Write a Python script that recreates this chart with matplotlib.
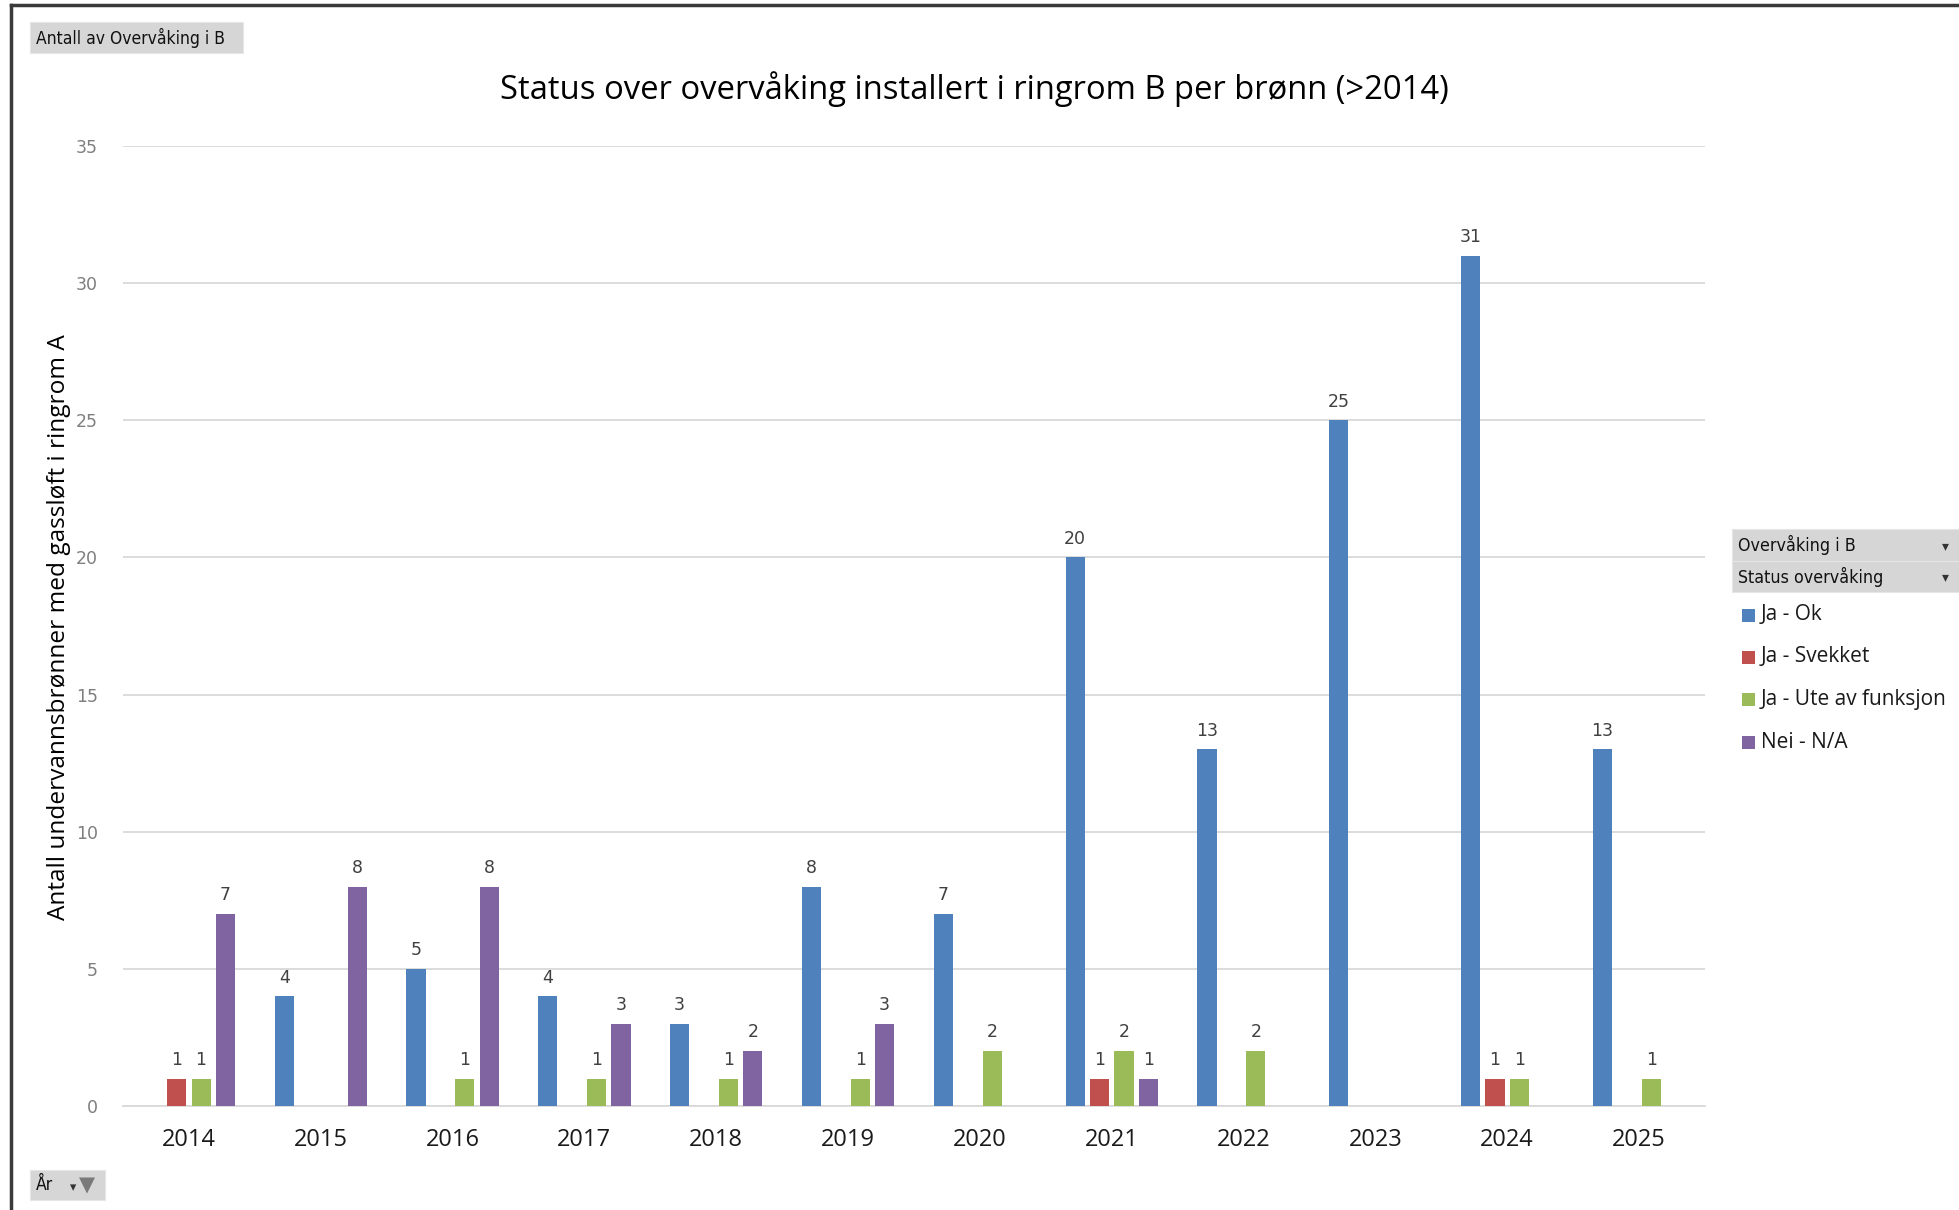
import matplotlib
matplotlib.use("Agg")
import matplotlib.pyplot as plt
from matplotlib.patches import Rectangle
from matplotlib.lines import Line2D
import numpy as np

years = ["2014", "2015", "2016", "2017", "2018", "2019", "2020", "2021", "2022", "2023", "2024", "2025"]
series_names = ["Ja - Ok", "Ja - Svekket", "Ja - Ute av funksjon", "Nei - N/A"]
ja_ok = [0, 4, 5, 4, 3, 8, 7, 20, 13, 25, 31, 13]
ja_svekket = [1, 0, 0, 0, 0, 0, 0, 1, 0, 0, 1, 0]
ja_ute = [1, 0, 1, 1, 1, 1, 2, 2, 2, 0, 1, 1]
nei_na = [7, 8, 8, 3, 2, 3, 0, 1, 0, 0, 0, 0]
colors = ["#4F81BD", "#C0504D", "#9BBB59", "#8064A2"]
yticks = [0, 5, 10, 15, 20, 25, 30, 35]

W, H = 1959, 1210
fig = plt.figure(figsize=(W / 100, H / 100), dpi=100)
fig.patch.set_facecolor("white")

def fx(x):
    return x / W

def fy(y):
    return 1 - y / H

ax_l, ax_r, ax_t, ax_b = 123, 1705, 146, 1106
ax = fig.add_axes([fx(ax_l), fy(ax_b), fx(ax_r - ax_l), (ax_b - ax_t) / H])
ax.set_xlim(-0.5, len(years) - 0.5)
ax.set_ylim(0, 35)

slot = 0.185
bw = 0.145
x = np.arange(len(years))
all_series = [ja_ok, ja_svekket, ja_ute, nei_na]
for i, (vals, c) in enumerate(zip(all_series, colors)):
    offs = (i - 1.5) * slot
    xs = [xi + offs for xi, v in zip(x, vals) if v > 0]
    vs = [v for v in vals if v > 0]
    ax.bar(xs, vs, width=bw, color=c, zorder=3)
    for xx, v in zip(xs, vs):
        ax.annotate(str(v), (xx, v), xytext=(0, 7), textcoords="offset points",
                    ha="center", va="bottom", fontsize=12.5, color="#404040",
                    family="DejaVu Sans")

ax.set_yticks(yticks)
ax.set_yticklabels([str(t) for t in yticks], fontsize=12.5, color="#7f7f7f", family="DejaVu Sans")
ax.set_xticks(x)
ax.set_xticklabels(years, fontsize=17, color="#1a1a1a", family="Open Sans")
ax.tick_params(axis="both", length=0)
ax.tick_params(axis="y", pad=18)
ax.tick_params(axis="x", pad=16)
ax.yaxis.grid(True, color="#d9d9d9", linewidth=1.3, zorder=0)
ax.set_axisbelow(True)
for s in ["top", "right", "left"]:
    ax.spines[s].set_visible(False)
ax.spines["bottom"].set_color("#d9d9d9")
ax.spines["bottom"].set_linewidth(1.3)
ax.set_facecolor("none")

# Title
fig.text(fx(974), fy(89), "Status over overvåking installert i ringrom B per brønn (>2014)",
         ha="center", va="center", fontsize=23.6, color="#000000", family="Open Sans")

# Y label
fig.text(fx(59), fy(627), "Antall undervannsbrønner med gassløft i ringrom A",
         ha="center", va="center", rotation=90, fontsize=17.6, color="#000000",
         family=["Liberation Sans Narrow", "Open Sans", "DejaVu Sans"])

# Frame border (left and top)
fig.add_artist(Line2D([fx(11), fx(11)], [fy(5), fy(1210)], color="#3a3a3a", linewidth=2.5))
fig.add_artist(Line2D([fx(11), fx(1959)], [fy(5), fy(5)], color="#3a3a3a", linewidth=2.5))

# Field buttons
def button(x0, y0, x1, y1, text, fs=12, arrow=False):
    r = Rectangle((fx(x0), fy(y1)), fx(x1 - x0), (y1 - y0) / H, transform=fig.transFigure,
                  facecolor="#d6d6d6", edgecolor="#e6e6e6", linewidth=0.8)
    fig.add_artist(r)
    fig.text(fx(x0 + 6), fy((y0 + y1) / 2), text, ha="left", va="center", fontsize=fs,
             color="#111111", family="DejaVu Sans", stretch="condensed")
    if arrow:
        fig.text(fx(x1 - 14), fy((y0 + y1) / 2 + 1), "▾", ha="center", va="center",
                 fontsize=10, color="#333333", family="DejaVu Sans")

button(30, 22, 243, 53, "Antall av Overvåking i B", fs=12.5)
button(1732, 529, 1959, 561, "Overvåking i B", fs=12.8, arrow=True)
button(1732, 561, 1959, 592, "Status overvåking", fs=12.8, arrow=True)
button(30, 1170, 105, 1200, "År", fs=12.5)
fig.text(fx(73), fy(1188), "▾", ha="center", va="center", fontsize=9, color="#333333")
fig.text(fx(87), fy(1185), "▼", ha="center", va="center", fontsize=15, color="#7a7a7a")

# Legend
leg_y = [615, 657, 699, 742]
for name, c, ly in zip(series_names, colors, leg_y):
    fig.add_artist(Rectangle((fx(1742), fy(ly + 7)), fx(13), 13 / H, transform=fig.transFigure,
                             facecolor=c, edgecolor="none"))
    fig.text(fx(1761), fy(ly), name, ha="left", va="center", fontsize=15,
             color="#1a1a1a", family="Open Sans")

fig.savefig("out.png", dpi=100)
